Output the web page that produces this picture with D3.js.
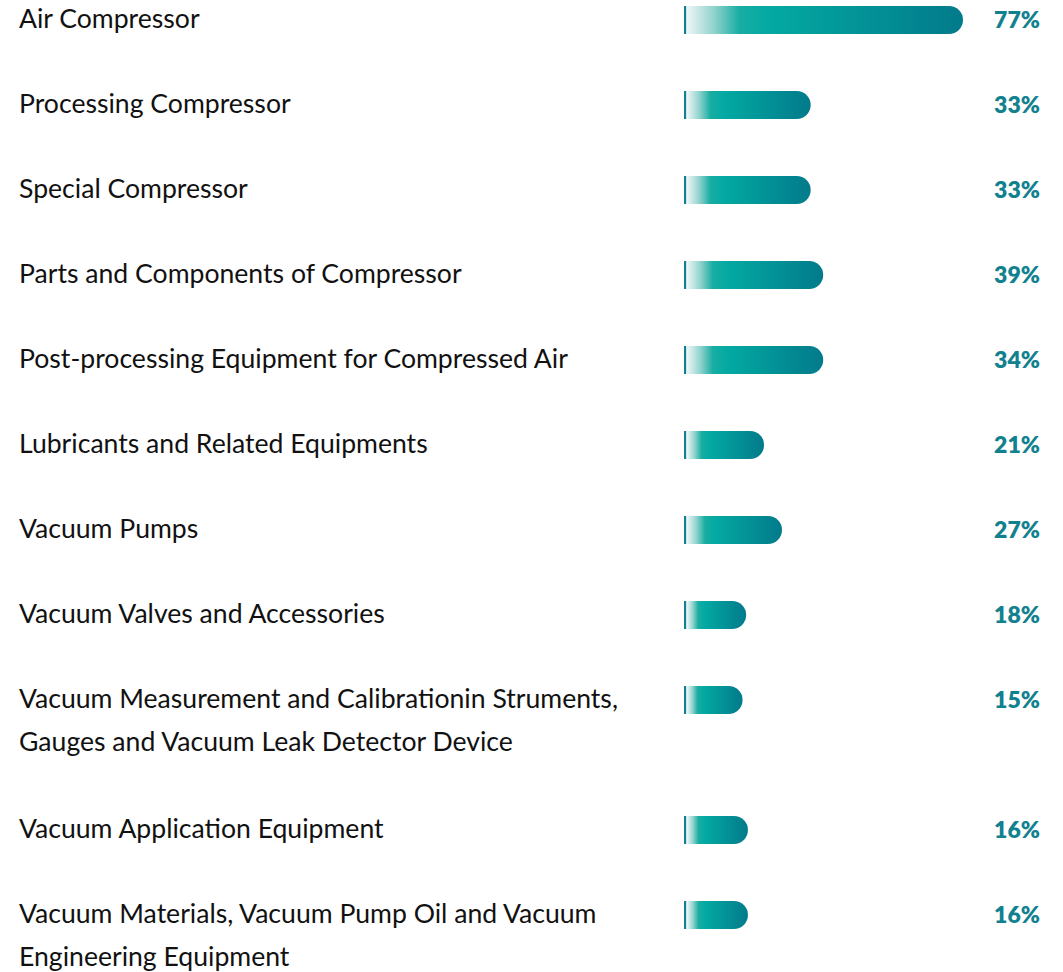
<!DOCTYPE html>
<html>
<head>
<meta charset="utf-8">
<script src="https://cdn.jsdelivr.net/npm/d3@7"></script>
<style>
  body { margin: 0; background: #fff; }
  .cat { font-family: "Lato", "Noto Sans", sans-serif; font-size: 26.6px; fill: #111; }
  .pct { font-family: "Lato", "Noto Sans", sans-serif; font-size: 23px; font-weight: 800; fill: #12818f; }
</style>
</head>
<body>
<svg id="chart" width="1063" height="972"></svg>
<script>
// categories (each entry = lines of the label)
var categories = [
    ["Air Compressor"],
    ["Processing Compressor"],
    ["Special Compressor"],
    ["Parts and Components of Compressor"],
    ["Post-processing Equipment for Compressed Air"],
    ["Lubricants and Related Equipments"],
    ["Vacuum Pumps"],
    ["Vacuum Valves and Accessories"],
    ["Vacuum Measurement and Calibrationin Struments,", "Gauges and Vacuum Leak Detector Device"],
    ["Vacuum Application Equipment"],
    ["Vacuum Materials, Vacuum Pump Oil and Vacuum", "Engineering Equipment"]
];

// percent shown at the right of each row
var percentLabels = ["77%", "33%", "33%", "39%", "34%", "21%", "27%", "18%", "15%", "16%", "16%"];

// bar lengths as drawn in the picture (same unit as the percentages)
var barValues = [77, 34.5, 34.5, 38, 38, 21.5, 26.5, 16.5, 15.5, 17, 17];

var svg = d3.select("#chart");

var BAR_H = 28;
var ROW_PITCH = 85;
var LINE_GAP = 43;

// row centres: each extra label line pushes the next rows down
var rowY = [];
var yPos = 20;
categories.forEach(function(lines) {
    rowY.push(yPos);
    yPos += ROW_PITCH + (lines.length - 1) * (LINE_GAP + 2);
});

// horizontal scale for the bars
var x = d3.scaleLinear()
    .domain([0, 77])
    .range([687, 963]);

// gradient: pale at the start, teal, then darker teal
var defs = svg.append("defs");
var grad = defs.append("linearGradient")
    .attr("id", "barGrad")
    .attr("x1", "0").attr("x2", "1")
    .attr("y1", "0").attr("y2", "0");
grad.append("stop").attr("offset", "0").attr("stop-color", "#eef6f6");
grad.append("stop").attr("offset", "0.10").attr("stop-color", "#8fd2cc");
grad.append("stop").attr("offset", "0.19").attr("stop-color", "#18ada3");
grad.append("stop").attr("offset", "0.30").attr("stop-color", "#03a9a2");
grad.append("stop").attr("offset", "1").attr("stop-color", "#027a8b");

var rows = svg.selectAll(".row")
    .data(categories)
    .enter()
    .append("g")
    .attr("class", "row")
    .attr("transform", function(_, i) { return "translate(0," + rowY[i] + ")"; });

// category labels
rows.append("text")
    .attr("class", "cat")
    .attr("x", 19)
    .attr("y", 8)
    .selectAll("tspan")
    .data(function(d) { return d; })
    .enter()
    .append("tspan")
    .attr("x", 19)
    .attr("dy", function(_, j) { return j === 0 ? 0 : LINE_GAP; })
    .text(function(d) { return d; });

// small tick at the start of every bar
rows.append("rect")
    .attr("x", x(0) - 3)
    .attr("y", -BAR_H / 2)
    .attr("width", 2.2)
    .attr("height", BAR_H)
    .attr("fill", "#0f8190");

// bars: flat left, round right end
rows.append("path")
    .attr("fill", "url(#barGrad)")
    .attr("d", function(_, i) {
        var x0 = x(0), x1 = x(barValues[i]), r = BAR_H / 2;
        return "M" + x0 + "," + (-r) +
            "H" + (x1 - r) +
            "A" + r + "," + r + " 0 0 1 " + (x1 - r) + "," + r +
            "H" + x0 + "Z";
    });

// percent labels, right aligned
rows.append("text")
    .attr("class", "pct")
    .attr("x", 1040)
    .attr("y", 8)
    .attr("text-anchor", "end")
    .text(function(_, i) { return percentLabels[i]; });
</script>
</body>
</html>
